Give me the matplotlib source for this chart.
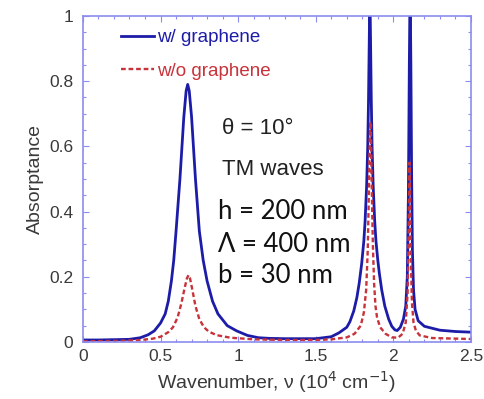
import matplotlib
matplotlib.use("Agg")
import matplotlib.pyplot as plt
from matplotlib.ticker import MultipleLocator

# ---- data ----
blue_x = [0.00, 0.10, 0.20, 0.30, 0.37, 0.42, 0.46, 0.50, 0.53, 0.55, 0.57, 0.585, 0.60, 0.625,
          0.65, 0.665, 0.675, 0.685, 0.70, 0.725, 0.75, 0.775, 0.80, 0.835, 0.87, 0.93, 0.99,
          1.06, 1.13, 1.20, 1.30, 1.40, 1.50, 1.60, 1.65, 1.70, 1.72, 1.745, 1.765, 1.78, 1.796,
          1.81, 1.818, 1.828, 1.835, 1.840, 1.845, 1.849, 1.853, 1.858, 1.863, 1.870, 1.880,
          1.888, 1.90, 1.91, 1.925, 1.945, 1.97, 1.99, 2.01, 2.025, 2.045, 2.065, 2.08, 2.09,
          2.097, 2.103, 2.108, 2.113, 2.118, 2.123, 2.13, 2.14, 2.16, 2.20, 2.30, 2.40, 2.50]
blue_y = [0.006, 0.006, 0.007, 0.008, 0.013, 0.022, 0.034, 0.058, 0.086, 0.125, 0.187, 0.25, 0.34, 0.50,
          0.69, 0.77, 0.79, 0.77, 0.69, 0.50, 0.34, 0.25, 0.187, 0.125, 0.086, 0.05, 0.034,
          0.02, 0.013, 0.011, 0.010, 0.010, 0.010, 0.016, 0.028, 0.045, 0.062, 0.095, 0.136, 0.18, 0.24,
          0.31, 0.37, 0.48, 0.60, 0.74, 0.93, 1.08, 0.93, 0.74, 0.60, 0.48, 0.37,
          0.31, 0.25, 0.21, 0.16, 0.11, 0.07, 0.048, 0.037, 0.035, 0.045, 0.07, 0.11, 0.2,
          0.45, 0.85, 1.1, 0.85, 0.5, 0.28, 0.16, 0.1, 0.065, 0.048, 0.036, 0.032, 0.03]

red_x = [0.00, 0.20, 0.35, 0.45, 0.50, 0.55, 0.58, 0.61, 0.635, 0.655, 0.67, 0.68, 0.69, 0.705,
         0.725, 0.75, 0.78, 0.81, 0.86, 0.95, 1.10, 1.30, 1.50, 1.60, 1.70, 1.75, 1.79, 1.81,
         1.825, 1.835, 1.842, 1.848, 1.852, 1.856, 1.862, 1.868, 1.876, 1.885, 1.895, 1.915,
         1.95, 1.99, 2.03, 2.06, 2.08, 2.092, 2.099, 2.104, 2.108, 2.113, 2.12, 2.13, 2.145,
         2.17, 2.25, 2.50]
red_y = [0.002, 0.003, 0.005, 0.010, 0.016, 0.03, 0.045, 0.075, 0.12, 0.165, 0.195, 0.205, 0.195, 0.16,
         0.11, 0.07, 0.045, 0.032, 0.021, 0.013, 0.008, 0.006, 0.006, 0.008, 0.014, 0.025, 0.05, 0.09,
         0.16, 0.28, 0.45, 0.62, 0.675, 0.62, 0.45, 0.3, 0.18, 0.11, 0.075, 0.045,
         0.025, 0.014, 0.013, 0.025, 0.06, 0.15, 0.35, 0.55, 0.45, 0.25, 0.12, 0.06, 0.035,
         0.02, 0.012, 0.009]

labels = ["w/ graphene", "w/o graphene"]
x_ticks = [0, 0.5, 1, 1.5, 2, 2.5]
x_ticklabels = ["0", "0.5", "1", "1.5", "2", "2.5"]
y_ticks = [0, 0.2, 0.4, 0.6, 0.8, 1]
y_ticklabels = ["0", "0.2", "0.4", "0.6", "0.8", "1"]

BLUE = "#1c1ca8"
RED = "#c8323a"
SPINE = "#8c8cf0"
TXT = "#3a3a3a"
ARIAL = ["Liberation Sans", "DejaVu Sans"]

fig = plt.figure(figsize=(4.85, 3.99), dpi=100)
ax = fig.add_axes([0.171, 0.143, 0.800, 0.817])

ax.plot(blue_x, blue_y, color=BLUE, lw=2.0, label=labels[0])
ax.plot(red_x, red_y, color=RED, lw=1.7, ls=(0, (2.0, 1.2)), label=labels[1])

ax.set_xlim(0, 2.5)
ax.set_ylim(0, 1)
ax.set_xticks(x_ticks)
ax.set_xticklabels(x_ticklabels, family=ARIAL)
ax.set_yticks(y_ticks)
ax.set_yticklabels(y_ticklabels, family=ARIAL)
ax.xaxis.set_minor_locator(MultipleLocator(0.1))
ax.yaxis.set_minor_locator(MultipleLocator(0.05))
ax.tick_params(which="both", direction="in", top=True, right=True, colors=SPINE,
               labelcolor=TXT, labelsize=12.5, width=0.8)
ax.tick_params(which="major", length=4)
ax.tick_params(which="minor", length=2)
ax.tick_params(axis="y", which="major", pad=7)
ax.tick_params(axis="x", which="major", pad=5)
for s in ax.spines.values():
    s.set_color(SPINE)
    s.set_linewidth(1.2)

ax.set_xlabel("Wavenumber, \u03bd (10$^4$ cm$^{-1}$)", fontsize=14, color=TXT, labelpad=4,
              family=ARIAL)
ax.set_ylabel("Absorptance", fontsize=14, color=TXT, labelpad=4, family=ARIAL)

leg = ax.legend(loc="upper left", bbox_to_anchor=(0.08, 0.982), frameon=False,
                handlelength=1.75, handletextpad=0.15, labelspacing=0.85,
                prop={"family": ARIAL, "size": 13.5}, labelcolor="linecolor", borderaxespad=0)

ax.text(0.895, 0.656, "\u03b8 = 10\u00b0", fontsize=16, color="#222222", va="center", ha="left",
        family=ARIAL)
ax.text(0.895, 0.528, "TM waves", fontsize=16, color="#222222", va="center", ha="left",
        family=ARIAL)
fam = ["Lato", "DejaVu Sans"]
ax.text(0.87, 0.40, "h = 200 nm", fontsize=18.5, color="#111111", va="center", ha="left", family=fam)
ax.text(0.87, 0.30, "\u039b = 400 nm", fontsize=18.5, color="#111111", va="center", ha="left", family=fam)
ax.text(0.87, 0.205, "b = 30 nm", fontsize=18.5, color="#111111", va="center", ha="left", family=fam)

fig.savefig("out.png", dpi=100)
